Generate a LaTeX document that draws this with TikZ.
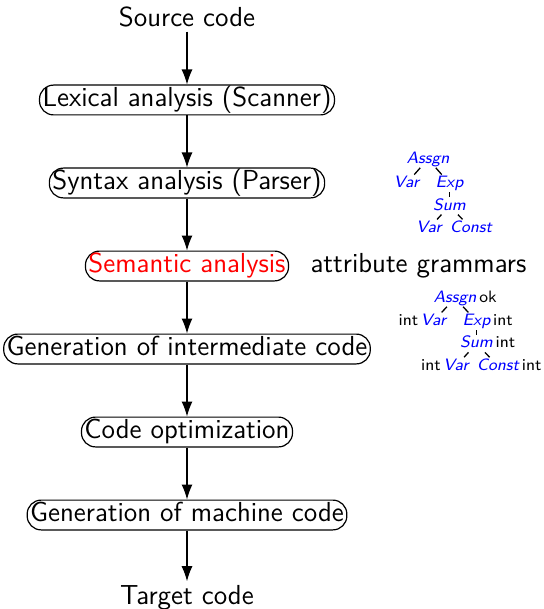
\documentclass[tikz,border=0pt]{standalone}
\usepackage{tikz}
\usetikzlibrary{arrows.meta,positioning}
\definecolor{ink}{HTML}{000000}
\definecolor{hilite}{HTML}{FF0000}
\definecolor{treec}{HTML}{0000FF}
\newcommand{\stagefont}{\sffamily\fontsize{13.75}{16}\selectfont}
\newcommand{\treefont}{\sffamily\fontsize{8.25}{10}\selectfont}
\tikzset{
  box/.style={draw=ink,rounded corners=7pt,inner xsep=1.5pt,inner ysep=0.6pt,
    text height=10.3pt,text depth=3.4pt,font=\stagefont,text=ink,line width=0.6pt},
  io/.style={inner sep=2pt,font=\stagefont,text=ink},
  note/.style={inner sep=0pt,font=\stagefont,text=ink},
  tn/.style={inner sep=0.5pt,font=\treefont\slshape,text=treec,
    text height=5.8pt,text depth=1.6pt},
  tl/.style={inner sep=0.5pt,font=\treefont,text=ink,
    text height=5.8pt,text depth=1.6pt},
  flow/.style={-{Latex[length=7.5pt,width=5.5pt]},line width=0.6pt,color=ink},
  tedge/.style={line width=0.65pt,color=ink},
  node distance=41.5pt
}
\begin{document}
\begin{tikzpicture}
  \useasboundingbox (0,0) rectangle (272pt,-304.5pt);
  % compiler phases
  \node[io] (src) at (93.5pt,-8.5pt) {Source code};
  \begin{scope}[on grid]
    \node[box,below=of src] (lex) {Lexical analysis (Scanner)};
    \node[box,below=of lex] (syn) {Syntax analysis (Parser)};
    \node[box,below=of syn,text=hilite] (sem) {Semantic analysis};
    \node[box,below=of sem] (inter) {Generation of intermediate code};
    \node[box,below=of inter] (opt) {Code optimization};
    \node[box,below=of opt] (mach) {Generation of machine code};
    \node[io,below=of mach] (tgt) {Target code};
  \end{scope}
  \node[note,right=10.5pt of sem] (attr) {attribute grammars};
  \draw[flow] (src) -- (lex);
  \draw[flow] (lex) -- (syn);
  \draw[flow] (syn) -- (sem);
  \draw[flow] (sem) -- (inter);
  \draw[flow] (inter) -- (opt);
  \draw[flow] (opt) -- (mach);
  \draw[flow] (mach) -- (tgt);
  % syntax tree
  \begin{scope}[on grid]
    \node[tn] (a1) at (214pt,-79.5pt) {Assgn};
    \node[tn,below left=12.2pt and 10.75pt of a1] (v1) {Var};
    \node[tn,below right=12.2pt and 10.75pt of a1] (e1) {Exp};
    \node[tn,below=11.2pt of e1] (s1) {Sum};
    \node[tn,below left=11.2pt and 10.25pt of s1] (w1) {Var};
    \node[tn,below right=11.2pt and 10.75pt of s1] (c1) {Const};
  \end{scope}
  \draw[tedge] (a1) -- (v1);
  \draw[tedge] (a1) -- (e1);
  \draw[tedge] (e1) -- (s1);
  \draw[tedge] (s1) -- (w1);
  \draw[tedge] (s1) -- (c1);
  % attributed tree
  \begin{scope}[on grid]
    \node[tn,label={[tl]right:ok}] (a2) at (227.5pt,-149pt) {Assgn};
    \node[tn,below left=11.6pt and 10.75pt of a2,label={[tl]left:int}] (v2) {Var};
    \node[tn,below right=11.6pt and 10.75pt of a2,label={[tl]right:int}] (e2) {Exp};
    \node[tn,below=11.2pt of e2,label={[tl]right:int}] (s2) {Sum};
    \node[tn,below left=11.2pt and 10.25pt of s2,label={[tl]left:int}] (w2) {Var};
    \node[tn,below right=11.2pt and 10.75pt of s2,label={[tl]right:int}] (c2) {Const};
  \end{scope}
  \draw[tedge] (a2) -- (v2);
  \draw[tedge] (a2) -- (e2);
  \draw[tedge] (e2) -- (s2);
  \draw[tedge] (s2) -- (w2);
  \draw[tedge] (s2) -- (c2);
\end{tikzpicture}
\end{document}
